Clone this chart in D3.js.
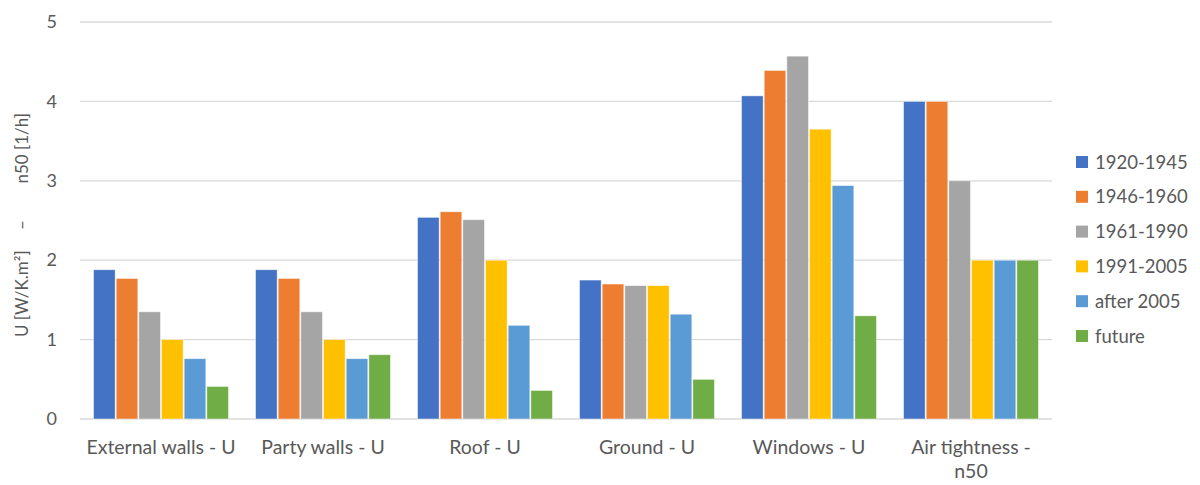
<!DOCTYPE html>
<html><head><meta charset="utf-8">
<script src="https://cdn.jsdelivr.net/npm/d3@7"></script>
<style>body{margin:0;background:#fff;} text{font-family:Lato,"Open Sans",sans-serif;fill:#595959;}</style>
</head><body>
<svg id="c" width="1200" height="485"></svg>
<script>
const categories = ["External walls - U","Party walls - U","Roof - U","Ground - U","Windows - U","Air tightness - n50"];
const seriesNames = ["1920-1945","1946-1960","1961-1990","1991-2005","after 2005","future"];
const colors = ["#4472C4","#ED7D31","#A5A5A5","#FFC000","#5B9BD5","#70AD47"];
const s1920 = [1.88,1.88,2.54,1.75,4.07,4.0];
const s1946 = [1.77,1.77,2.61,1.70,4.39,4.0];
const s1961 = [1.35,1.35,2.51,1.68,4.57,3.0];
const s1991 = [1.0,1.0,2.0,1.68,3.65,2.0];
const sAfter = [0.76,0.76,1.18,1.32,2.94,2.0];
const sFuture = [0.41,0.81,0.36,0.5,1.30,2.0];
const seriesValues = [s1920,s1946,s1961,s1991,sAfter,sFuture];
const yTicks = [0,1,2,3,4,5];
const yTitleParts = ["U [W/K.m\u00B2]","\u2013","n50 [1/h]"];

(function(){
const svg = d3.select("#c");
const pLeft=80, pRight=1052, pTop=22, pBottom=419;
const x0 = d3.scaleBand().domain(categories).range([pLeft,pRight]).padding(0);
const gap = 26;
const x1 = d3.scaleBand().domain(seriesNames).range([gap/2, x0.bandwidth()-gap/2]).padding(0);
const y = d3.scaleLinear().domain([0,5]).range([pBottom,pTop]);

svg.append("g").selectAll("line").data(yTicks).join("line")
  .attr("x1",pLeft).attr("x2",pRight)
  .attr("y1",d=>y(d)).attr("y2",d=>y(d))
  .attr("stroke","#d9d9d9").attr("stroke-width",1.3);

const yAxis = d3.axisLeft(y).tickValues(yTicks).tickSize(0).tickPadding(0).tickFormat(d3.format("d"));
const ya = svg.append("g").attr("transform",`translate(57,0)`).call(yAxis);
ya.select(".domain").remove();
ya.selectAll("text").style("font-size","18px").attr("fill","#595959");

const g = svg.append("g");
categories.forEach((c,ci)=>{
  const gg = g.append("g").attr("transform",`translate(${x0(c)},0)`);
  gg.selectAll("rect").data(seriesNames.map((s,si)=>({s,v:seriesValues[si][ci],col:colors[si]})))
    .join("rect")
    .attr("x",d=>x1(d.s)+0.5).attr("width",x1.bandwidth()-1)
    .attr("y",d=>y(d.v)).attr("height",d=>y(0)-y(d.v))
    .attr("fill",d=>d.col).attr("stroke","#fff").attr("stroke-width",0.8).attr("stroke-opacity",0.6);
});

const xl = svg.append("g");
categories.forEach(c=>{
  const cx = x0(c)+x0.bandwidth()/2;
  let lines = [c];
  if (c.startsWith("Air tightness")) lines = ["Air tightness -","n50"];
  lines.forEach((ln,i)=>{
    xl.append("text").attr("x",cx).attr("y",454+i*24).attr("text-anchor","middle")
      .style("font-size","19.5px").text(ln);
  });
});

// y title in three pieces
const tg = svg.append("g").attr("transform","translate(28,0)");
[[337,"start"],[225,"middle"],[113,"end"]].forEach(([py,anchor],i)=>{
  tg.append("text").attr("transform",`translate(0,${py}) rotate(-90)`).attr("text-anchor",anchor)
    .style("font-size","17px").text(yTitleParts[i]);
});

const lg = svg.append("g");
seriesNames.forEach((s,i)=>{
  const cy = 162 + i*34.8;
  lg.append("rect").attr("x",1076).attr("y",cy-6).attr("width",12).attr("height",12).attr("fill",colors[i]);
  lg.append("text").attr("x",1095).attr("y",cy+6.5).style("font-size","18.5px").text(s);
});
})();
</script>
</body></html>
